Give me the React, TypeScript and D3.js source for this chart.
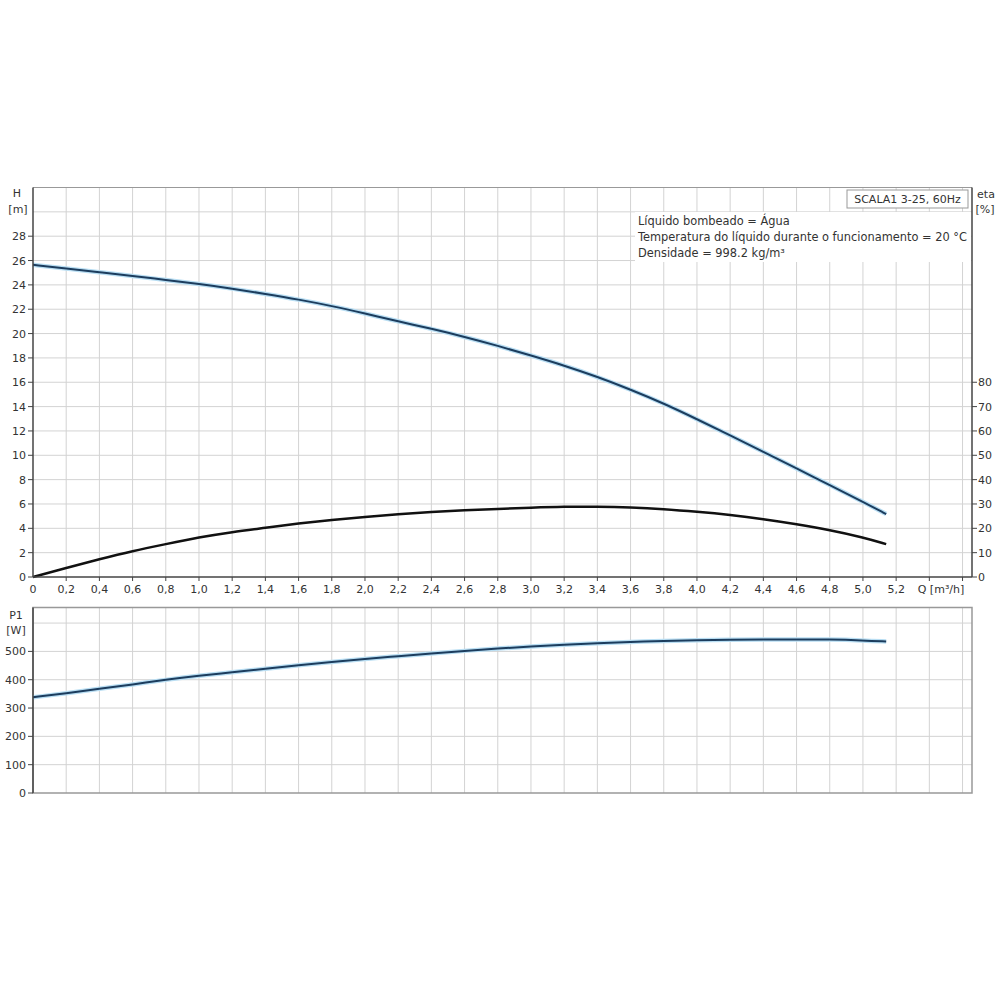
import React from "react";
import * as d3 from "d3";

const flow = [0, 0.2, 0.4, 0.6, 0.8, 1.0, 1.2, 1.4, 1.6, 1.8, 2.0, 2.2, 2.4, 2.6, 2.8, 3.0, 3.2, 3.4, 3.6, 3.8, 4.0, 4.2, 4.4, 4.6, 4.8, 5.0, 5.14];
const head = [25.65, 25.34, 25.04, 24.74, 24.4, 24.08, 23.7, 23.26, 22.8, 22.27, 21.65, 21.0, 20.4, 19.73, 19.0, 18.2, 17.38, 16.45, 15.4, 14.26, 12.97, 11.63, 10.29, 8.92, 7.55, 6.18, 5.17];
const eta = [0, 3.7, 7.3, 10.7, 13.5, 16.3, 18.5, 20.2, 22.0, 23.5, 24.7, 25.8, 26.7, 27.4, 28.0, 28.5, 28.9, 28.9, 28.6, 27.9, 26.8, 25.5, 23.8, 21.7, 19.3, 16.3, 13.5];
const power = [338, 352, 368, 383, 400, 414, 426, 439, 451, 463, 473, 483, 493, 502, 510, 517, 524, 529, 533, 537, 540, 541.5, 542, 542.5, 542, 539, 535];

const qTicks = [0, 0.2, 0.4, 0.6, 0.8, 1.0, 1.2, 1.4, 1.6, 1.8, 2.0, 2.2, 2.4, 2.6, 2.8, 3.0, 3.2, 3.4, 3.6, 3.8, 4.0, 4.2, 4.4, 4.6, 4.8, 5.0, 5.2];
const qGrid = [0.2, 0.4, 0.6, 0.8, 1.0, 1.2, 1.4, 1.6, 1.8, 2.0, 2.2, 2.4, 2.6, 2.8, 3.0, 3.2, 3.4, 3.6, 3.8, 4.0, 4.2, 4.4, 4.6, 4.8, 5.0, 5.2, 5.4, 5.6];
const hTicks = [0, 2, 4, 6, 8, 10, 12, 14, 16, 18, 20, 22, 24, 26, 28];
const hGrid = [2, 4, 6, 8, 10, 12, 14, 16, 18, 20, 22, 24, 26, 28, 30];
const etaTicks = [0, 10, 20, 30, 40, 50, 60, 70, 80];
const pTicks = [0, 100, 200, 300, 400, 500];
const pGrid = [100, 200, 300, 400, 500, 600];

const legendTitle = "SCALA1 3-25, 60Hz";
const legendLines = [
  "Líquido bombeado = Água",
  "Temperatura do líquido durante o funcionamento = 20 °C",
  "Densidade = 998.2 kg/m³",
];

const FONT = "'DejaVu Sans', sans-serif";
const TXT = "#333";
const GRID = "#d3d3d3";
const AXIS = "#444";
const BORDER = "#999";
const BLUE = "#1c3d5e";
const HALO = "#b9def3";

const fmt = (v: number) => (v === 0 ? "0" : v.toFixed(1).replace(".", ","));

export default function App() {
  const left = 33;
  const right = 972;
  const x = d3.scaleLinear().domain([0, 5.657]).range([left, right]);
  const yH = d3.scaleLinear().domain([0, 32]).range([577, 187.5]);
  const yE = d3.scaleLinear().domain([0, 160]).range([577, 187.5]);
  const yP = d3.scaleLinear().domain([0, 655]).range([793, 607.5]);

  const idx = flow.map((_, i) => i);
  const lineH = d3.line<number>().x((i) => x(flow[i])).y((i) => yH(head[i])).curve(d3.curveBasis);
  const lineE = d3.line<number>().x((i) => x(flow[i])).y((i) => yE(eta[i])).curve(d3.curveBasis);
  const lineP = d3.line<number>().x((i) => x(flow[i])).y((i) => yP(power[i])).curve(d3.curveBasis);

  const topY = yH(32);
  const botY = yH(0);
  const pTop = yP(655);
  const pBot = yP(0);

  return (
    <svg width={1000} height={1000} style={{ position: "absolute", left: 0, top: 0, background: "#fff" }} fontFamily={FONT} fontSize={11}>
      <rect x={0} y={0} width={1000} height={1000} fill="#fff" />
      {/* top panel grid */}
      {hGrid.map((v) => (
        <line key={"hg" + v} x1={left} x2={right} y1={yH(v)} y2={yH(v)} stroke={GRID} strokeWidth={1} />
      ))}
      {qGrid.map((v) => (
        <line key={"qg" + v} x1={x(v)} x2={x(v)} y1={topY} y2={botY} stroke={GRID} strokeWidth={1} />
      ))}
      <line x1={left} x2={right} y1={topY} y2={topY} stroke={BORDER} strokeWidth={1} />

      {/* legend */}
      <rect x={635} y={212} width={right - 636} height={50} fill="#fff" />
      {legendLines.map((t, i) => (
        <text key={t} x={638} y={225 + i * 16} fill={TXT} fontSize={11.4}>{t}</text>
      ))}
      <rect x={847} y={190} width={121} height={18} fill="#fff" stroke={BORDER} strokeWidth={1} />
      <text x={907.5} y={203} fill={TXT} textAnchor="middle" fontSize={11}>{legendTitle}</text>

      {/* top panel curves */}
      <path d={lineH(idx) || ""} fill="none" stroke={HALO} strokeWidth={4.5} />
      <path d={lineH(idx) || ""} fill="none" stroke={BLUE} strokeWidth={2} />
      <path d={lineE(idx) || ""} fill="none" stroke="#111" strokeWidth={2.5} />

      {/* axes top */}
      <line x1={left} x2={left} y1={topY} y2={botY} stroke={AXIS} strokeWidth={1.5} />
      <line x1={left} x2={right} y1={botY} y2={botY} stroke={AXIS} strokeWidth={1.5} />
      <line x1={right} x2={right} y1={topY} y2={botY} stroke={AXIS} strokeWidth={1.5} />
      {hTicks.map((v) => (
        <g key={"ht" + v}>
          <line x1={left - 5} x2={left} y1={yH(v)} y2={yH(v)} stroke={AXIS} strokeWidth={1} />
          <text x={26} y={yH(v) + 4} fill={TXT} textAnchor="end">{v}</text>
        </g>
      ))}
      {qGrid.map((v) => (
        <line key={"qt" + v} x1={x(v)} x2={x(v)} y1={botY} y2={botY + 4} stroke={AXIS} strokeWidth={1} />
      ))}
      {qTicks.map((v) => (
        <text key={"ql" + v} x={x(v)} y={593} fill={TXT} textAnchor="middle">{fmt(v)}</text>
      ))}
      <text x={941} y={593} fill={TXT} textAnchor="middle">Q [m³/h]</text>
      {etaTicks.map((v) => (
        <g key={"et" + v}>
          <line x1={right} x2={right + 5} y1={yE(v)} y2={yE(v)} stroke={AXIS} strokeWidth={1} />
          <text x={978} y={yE(v) + 4} fill={TXT}>{v}</text>
        </g>
      ))}
      <text x={17} y={197} fill={TXT} textAnchor="middle">H</text>
      <text x={18} y={213} fill={TXT} textAnchor="middle">[m]</text>
      <text x={986} y={198} fill={TXT} textAnchor="middle">eta</text>
      <text x={985} y={213} fill={TXT} textAnchor="middle">[%]</text>

      {/* bottom panel */}
      {pGrid.map((v) => (
        <line key={"pg" + v} x1={left} x2={right} y1={yP(v)} y2={yP(v)} stroke={GRID} strokeWidth={1} />
      ))}
      {qGrid.map((v) => (
        <line key={"qg2" + v} x1={x(v)} x2={x(v)} y1={pTop} y2={pBot} stroke={GRID} strokeWidth={1} />
      ))}
      <rect x={left} y={pTop} width={right - left} height={pBot - pTop} fill="none" stroke={BORDER} strokeWidth={1.5} />
      <path d={lineP(idx) || ""} fill="none" stroke={HALO} strokeWidth={4.5} />
      <path d={lineP(idx) || ""} fill="none" stroke={BLUE} strokeWidth={2} />
      <line x1={left} x2={left} y1={pTop} y2={pBot} stroke={AXIS} strokeWidth={1.5} />
      {pTicks.map((v) => (
        <g key={"pt" + v}>
          <line x1={left - 5} x2={left} y1={yP(v)} y2={yP(v)} stroke={AXIS} strokeWidth={1} />
          <text x={26} y={yP(v) + 4} fill={TXT} textAnchor="end">{v}</text>
        </g>
      ))}
      <text x={16} y={619} fill={TXT} textAnchor="middle">P1</text>
      <text x={16} y={634} fill={TXT} textAnchor="middle">[W]</text>
    </svg>
  );
}
